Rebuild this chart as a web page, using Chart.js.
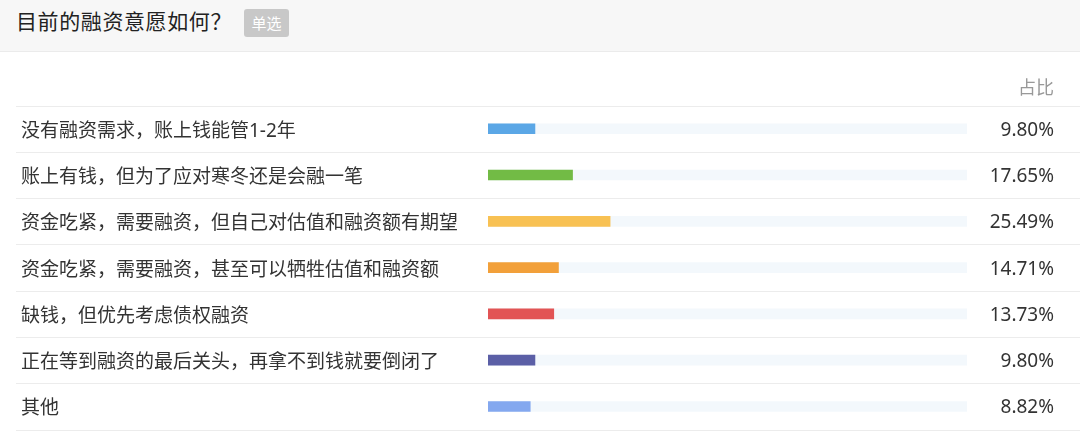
<!DOCTYPE html>
<html>
<head>
<meta charset="utf-8">
<script src="https://cdn.jsdelivr.net/npm/chart.js@4/dist/chart.umd.min.js"></script>
<style>
  body { margin: 0; background: #fff; font-family: 'Noto Sans', 'Noto Sans CJK SC', sans-serif; }
  #head { position: relative; height: 51px; background: #f7f7f7; border-bottom: 1px solid #ebebeb; }
  #title { position: absolute; left: 16px; top: 7px; font-size: 21px; color: #222; line-height: 28px; letter-spacing: 0.6px; }
  #badge { position: absolute; left: 244px; top: 9px; width: 45px; height: 28px; line-height: 28px; background: #c8c8c8; color: #fff; font-size: 15px; text-align: center; border-radius: 3px; }
  #wrap { position: relative; width: 1080px; height: 389px; }
</style>
</head>
<body>
<div id="head"><div id="title">目前的融资意愿如何？</div><div id="badge">单选</div></div>
<div id="wrap"><canvas id="chart"></canvas></div>
<script>
const options = [
    '没有融资需求，账上钱能管1-2年',
    '账上有钱，但为了应对寒冬还是会融一笔',
    '资金吃紧，需要融资，但自己对估值和融资额有期望',
    '资金吃紧，需要融资，甚至可以牺牲估值和融资额',
    '缺钱，但优先考虑债权融资',
    '正在等到融资的最后关头，再拿不到钱就要倒闭了',
    '其他'
];
const shares = [9.80, 17.65, 25.49, 14.71, 13.73, 9.80, 8.82];
const barColors = ['#5ba7e6', '#72bb45', '#f8c153', '#f2a03a', '#e25455', '#5b5fa6', '#84a8ef'];
const shareLabels = shares.map(v => v.toFixed(2) + '%');

// lines between the rows, across the full width
const rowLines = {
    id: 'rowLines',
    beforeDatasetsDraw(chart) {
        const y = chart.scales.y;
        const ctx = chart.ctx;
        const step = y.getPixelForValue(1) - y.getPixelForValue(0);
        ctx.save();
        ctx.strokeStyle = '#ececec';
        ctx.lineWidth = 1;
        for (let i = 0; i <= options.length; i++) {
            const py = Math.round(y.getPixelForValue(i) - step / 2) + 0.5;
            ctx.beginPath();
            ctx.moveTo(16, py);
            ctx.lineTo(chart.width, py);
            ctx.stroke();
        }
        ctx.restore();
    }
};

new Chart(document.getElementById('chart'), {
    type: 'bar',
    data: {
        labels: options,
        datasets: [{
            data: shares,
            backgroundColor: barColors,
            barThickness: 10,
            grouped: false,
            order: 1
        }, {
            data: options.map(() => 100),
            backgroundColor: '#f3f8fc',
            barThickness: 10,
            grouped: false,
            order: 2
        }]
    },
    options: {
        indexAxis: 'y',
        responsive: true,
        maintainAspectRatio: false,
        animation: false,
        layout: { padding: { left: 21, right: 26, top: 0, bottom: 0 } },
        scales: {
            x: { min: 0, max: 100, display: false },
            y: {
                position: 'left',
                grid: { display: false },
                border: { display: false },
                ticks: { crossAlign: 'far', padding: 0, labelOffset: 2.5, color: '#333', font: { size: 19, family: "'Noto Sans', 'Noto Sans CJK SC'" } },
                afterFit(s) { s.width = 467; }
            },
            y2: {
                type: 'category',
                labels: shareLabels,
                position: 'right',
                offset: true,
                grid: { display: false },
                border: { display: false },
                ticks: { crossAlign: 'far', padding: 0, labelOffset: 1.5, color: '#333', font: { size: 19, family: "'Noto Sans', 'Noto Sans CJK SC'" } },
                afterFit(s) { s.width = 87; }
            }
        },
        plugins: {
            legend: { display: false },
            tooltip: { enabled: false },
            title: {
                display: true,
                text: '占比',
                align: 'end',
                color: '#999',
                font: { size: 18, weight: 'normal', family: "'Noto Sans', 'Noto Sans CJK SC'" },
                padding: { top: 26, bottom: 6 }
            }
        }
    },
    plugins: [rowLines]
});
</script>
</body>
</html>
